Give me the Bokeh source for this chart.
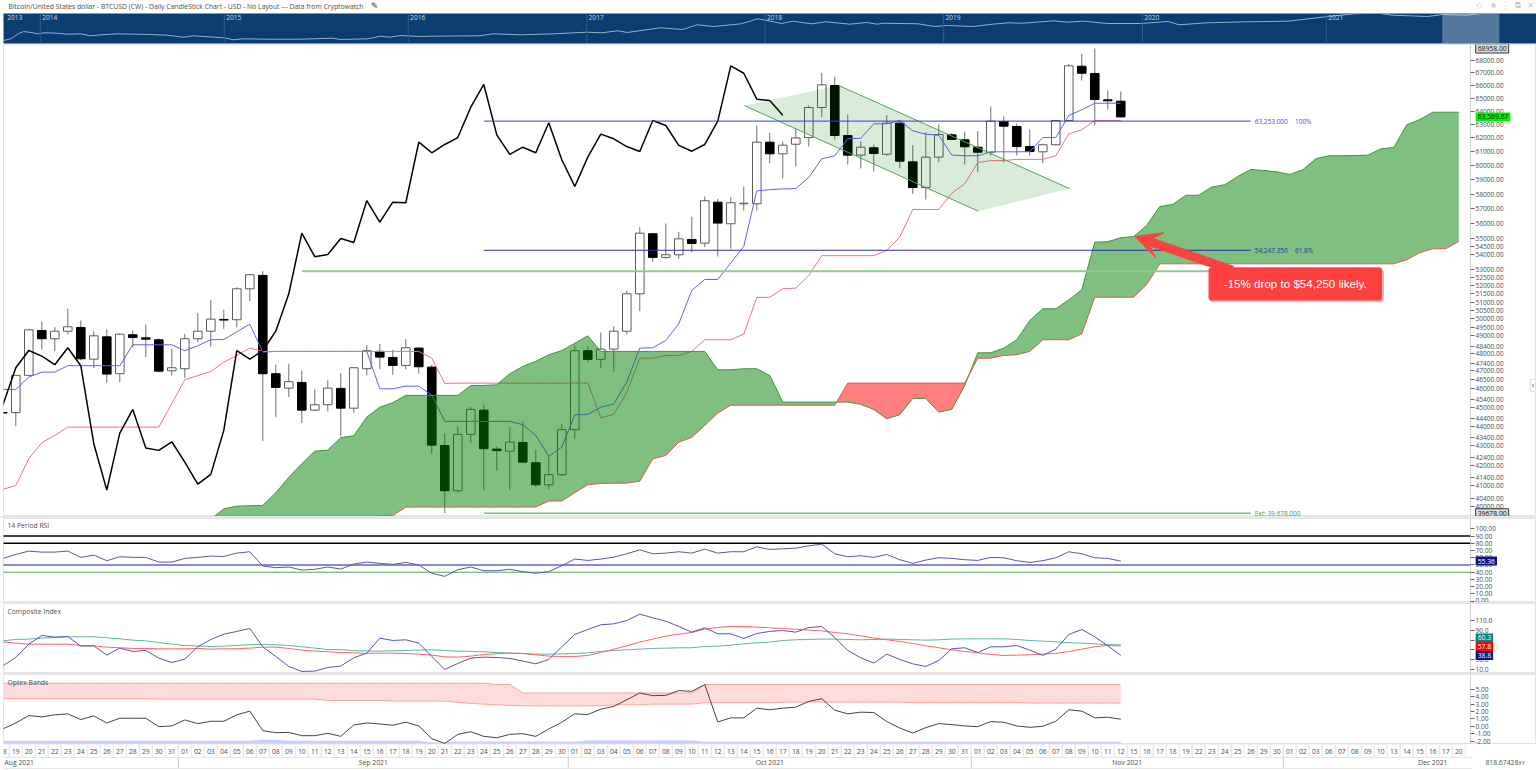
from bokeh.plotting import figure
from bokeh.layouts import column
from bokeh.embed import file_html
from bokeh.resources import INLINE
from bokeh.core.properties import value
from bokeh.models import (Range1d, FixedTicker, PrintfTickFormatter, Label, Span, Arrow, VeeHead,
                          BoxAnnotation, Spacer)

TITLE = "Bitcoin/United States dollar - BTCUSD (CW) - Daily CandleStick Chart - USD - No Layout --- Data from Cryptowatch"

open_ = [44730,44720,46750,49310,48830,49270,49490,47660,48940,46840,
 49060,48885,48770,47005,47120,48830,49270,49965,49945,51820,
 52650,46840,46045,46360,44855,45145,46030,44960,47120,48100,
 47755,47305,48290,47210,43010,40755,43580,44855,42825,42720,
 43165,42135,41045,41540,43825,48140,47645,48230,49270,51510,
 55325,53790,53960,54950,54710,57440,55985,57330,57330,61690,
 60840,61540,62030,64285,65990,62180,60745,61280,60810,63100,
 60265,58450,60600,62230,61860,61320,60955,63225,62850,61370,
 60985,61500,63300,67520,66940,64875,64770]
close = [44700,46750,49350,48830,49270,49530,47680,49000,46820,49095,
 48900,48805,46985,47175,48830,49270,49980,49925,51820,52690,
 46840,46085,46400,44855,45145,46045,44960,47175,48140,47775,
 47305,48310,47230,43025,40755,43580,44895,42845,42745,43180,
 42165,41045,41540,43825,48140,47645,48230,49270,51510,55360,
 53790,53960,54990,54690,57540,56030,57400,57370,61690,60840,
 61470,62005,64285,66045,62180,60745,61320,60865,63100,60310,
 58450,60600,62250,61885,61350,60955,63250,62875,61370,61005,
 61500,63300,67550,66960,64900,64800,63569.67]
high = [44730,46750,49410,49850,49510,50600,49900,49270,49375,49150,
 49310,49665,48845,48250,49115,50360,51140,50540,51920,52750,
 52915,47345,47400,47020,45975,46470,46875,47210,48460,48540,
 48195,48805,48345,47345,43650,43995,45015,45145,42960,43960,
 44250,42795,42470,44140,48440,48385,49195,49550,51715,55760,
 55340,56000,55455,56455,57830,57670,57780,58525,62925,62380,
 61740,62720,64440,66990,66690,63760,61760,61520,63700,63350,
 61470,62425,63000,62350,62480,62500,64360,63600,63050,62650,
 61570,63350,67710,68530,68958,65600,65520]
low = [44700,44010,46750,48210,48115,49080,47590,47150,46340,46375,
 48345,47775,46930,46745,46600,48630,48385,49410,49510,51055,
 43230,44485,45560,44170,44800,44790,43480,44720,46745,47095,
 46785,47080,46840,42590,39678,40660,43130,40770,41750,40800,
 42135,40930,40830,41470,43360,47475,47150,46930,49075,50460,
 53490,53705,53705,54130,54450,53850,54350,56880,56880,60165,
 59085,59930,61370,63550,61880,60070,59790,59575,60700,59810,
 58010,57625,60240,61885,60070,59555,60715,60215,60715,60715,
 60165,61450,63250,66385,62925,64130,63569.67]

tenkan = [45975,45975,46650,46930,46930,47290,47290,47290,47290,47290,
 48480,48480,48480,48480,48140,48425,48770,48785,49235,49685,
 48060,48100,48100,48100,48100,48100,48100,48100,48100,46010,
 46010,46155,46155,45665,44260,44260,44260,44260,44260,44260,
 44085,43530,42455,42925,44610,44630,45015,45180,46375,48290,
 48310,48730,49710,51715,52395,52395,53435,54500,58215,58300,
 58350,58375,59155,60480,60700,61935,61980,63050,63050,63300,
 62530,62280,62200,60745,60700,60700,60985,60985,60985,61000,
 62030,62030,63680,64110,64615,64615,64615]
kijun = [40820,41010,42340,43150,43530,43960,43960,43960,43960,43960,
 43960,43960,43960,45200,46510,46730,46965,47490,47870,48290,
 48100,48100,48100,48100,48100,48100,48100,48100,48100,48100,
 48100,48100,48100,47715,46300,46320,46320,46320,46320,46320,
 46320,46320,46320,46320,46320,46320,44450,44630,45825,47715,
 47715,47870,47870,48100,48770,48770,48770,49100,51285,51300,
 51820,51860,52645,53900,53900,53900,53900,53900,54240,55100,
 56945,56945,56945,58055,58710,60210,60350,60350,60440,60440,
 60440,60700,62300,62600,63300,63300,63300]
chikou = [45110,47175,48150,47830,47345,48310,47290,43100,40785,43650,
 44895,42875,42760,43200,42165,41075,41555,43790,48150,47660,
 48150,49270,51510,55360,53835,53980,55010,54755,57540,56095,
 57440,57400,61690,60915,61520,62030,64310,66070,62230,60800,
 61320,60915,63125,60410,58525,60600,62280,61935,61370,61005,
 63300,62925,61450,61030,61520,63250,67550,66960,64925,64825,
 63700]
CLOUD_START = 16
span_a = [39400,39890,40015,40035,40050,40660,41410,42085,42720,42770,
 43410,43515,44485,45015,45255,45650,45650,45650,45650,45650,
 46190,46190,46230,46840,47250,47535,47910,48150,48570,49000,
 48100,48100,48100,48100,48100,48100,48100,48100,48100,47060,
 47060,47120,47120,46745,45285,45285,45285,45285,45285,45285,
 45165,44895,44400,44610,45485,45485,44750,44895,46190,48020,
 48020,48290,48770,49905,50600,50600,51140,51760,54775,54800,
 55060,55145,55880,57150,57285,57915,57915,58480,58645,59225,
 59720,59650,59550,59365,59695,60480,60700,60700,60715,60745,
 61200,61300,62975,63370,63925,63925,63925]
span_b = [39200,39200,39200,39200,39200,39200,39200,39200,39200,39200,
 39200,39200,39400,39570,39570,39970,39970,39970,39970,39970,
 39970,39970,39970,39970,39970,39970,40260,40260,40660,41045,
 41110,41125,41125,41225,42330,42500,43180,43425,44050,44700,
 45120,45120,45120,45120,45120,45120,45120,45120,45120,46320,
 46320,46320,46320,46320,46320,46320,46320,46320,46320,47715,
 47715,47870,47910,48100,48770,48770,48770,49115,51300,51300,
 51300,51300,52085,53380,53380,53380,53380,53380,53380,53380,
 53380,53380,53380,53380,53380,53380,53380,53380,53380,53380,
 53380,53380,53640,54090,54345,54345,54820]

fib_prices = [63253.0, 54247.35, 39678.0]
fib_text = ["63,253.000", "54,247.350", "Ext: 39,678.000"]
fib_pct = ["100%", "61.8%", ""]
fib_colors = ["#3838ee", "#2a2fa8", "#7cc07c"]
fib_from, fib_to = 37, 96
level_50 = 52910
channel_x = [57.05, 64.3, 82.05, 75.05]
channel_y = [64430, 65990, 58380, 56820]

price_ticks = [68000,67000,66000,65000,64000,63000,62000,61000,60000,59000,58000,57000,56000,55000,
 54500,54000,53000,52500,52000,51500,51000,50500,50000,49500,49000,48400,48000,47400,47000,46500,
 46000,45400,45000,44400,44000,43400,43000,42400,42000,41400,41000,40400,40000]

rsi = [59.1,64.6,69.2,67.8,67.8,69.2,60.5,63.7,55.9,61.4,60.5,60.5,54,54,59.1,60.5,62.3,61.8,66.4,68.3,
 48.6,46.3,47.2,43,44,47.2,44.4,51.3,54,52.2,50.8,53.6,49.9,38.5,34.3,43.5,47.2,42.1,42.1,44,
 40.8,38.5,40.8,49,58.2,56.3,58.2,60.9,65.5,71,65.5,66.4,68.3,66.4,71.9,66.4,68.3,68.3,75.1,71.5,
 72.4,73.3,76.5,78.8,65.5,61.4,62.8,60.5,64.6,57.3,52.2,56.8,60,59.1,57.3,56.3,60.5,60,55.9,53.6,
 55.9,60,68.3,65.5,60,59.1,55.36]
rsi_ticks = [0,10,20,30,40,50,60,70,80,90,100]
rsi_levels = [90, 80, 50, 40]
rsi_level_colors = ["#444444", "black", "#8a8ad0", "#4fa54f"]
rsi_level_widths = [2, 1.5, 2, 1]

comp_blue = [17.5,34.5,61.7,79.4,76,77.4,57.7,58.3,39.3,53.6,46.8,48.8,33.2,24.3,31.1,56.3,71.3,82.1,87.6,93.7,
 56.3,36.6,16.2,6,6.7,14.1,16.9,33.9,43.4,74,69.2,70.6,63.8,36.6,10.1,22.3,33.2,35.2,34.5,32.5,
 27.1,21.6,30.5,56.3,81.5,91.7,101.2,103.2,110,122.9,115.5,108.7,97.8,86.2,95.1,82.8,82.8,73.3,83.5,87.6,
 89.6,86.2,95.7,97.8,75.3,48.8,33.9,23,41.3,30.5,21.6,16.2,28.4,52.2,54.3,44.7,56.3,56.3,59,49.5,
 38.6,51.5,81.5,91.7,76.7,58.3,38.8]
comp_teal = [68.5,71.3,72,74,75.3,76.7,76.7,76.7,74.7,72.6,69.9,68.5,65.1,61.7,59,57.7,57,57.7,59,61,
 61,60.4,59,56.3,53.6,50.9,50.2,48.8,47.5,47.5,48.2,48.8,49.5,50.2,48.8,47.5,46.8,46.1,44.7,43.4,
 42.7,41.3,41.3,42,42.7,44.1,46.8,48.8,50.2,51.5,52.9,53.6,54.3,54.3,57,57.7,59.7,62.4,64.5,65.8,
 69.2,70.6,71.3,72,72,71.3,70.6,71.3,72,71.3,70.6,69.9,70.6,72,72.6,72.6,72.6,72.6,71.3,69.2,
 67.9,66.5,64.5,63.8,62.4,60.4,60.3]
comp_red = [66.5,63.8,61.7,61.7,61.7,61.7,59,58.3,55.6,54.3,52.9,52.9,52.2,52.2,52.2,52.9,51.5,52.2,52.2,53.6,
 55.6,55.6,52.9,49.5,47.5,46.1,44.7,44.1,42.7,43.4,43.4,42.7,41.3,39.3,35.9,35.2,37.3,40.7,42,43.4,
 42.7,40,37.3,36.6,36.6,38.6,44.7,51.5,58.3,65.8,72,78.1,82.1,85.5,92.3,95.7,97.8,97.8,96.4,95.1,
 93.7,92.3,90.3,88.9,85.5,82.8,78.7,74,70.6,67.2,63.1,58.3,54.3,50.2,46.8,44.1,40.7,38.6,39.3,40,
 41.3,42.7,46.8,51.5,56.3,59,57.8]
comp_ticks = [10,30,50,70,90,110]

optex = [-.36,.45,1.45,1.27,1.55,1.68,.91,1.41,.45,1.09,1.09,1.09,-.05,.05,.86,.36,.68,.68,1.55,2.05,
 -.59,-.86,-.82,-1.27,-1.27,-.95,-1.36,.18,.45,.32,.14,.55,.05,-1.68,-2.32,-1.09,-.73,-1.36,-1.55,-1.09,
 -1,-1.36,-.36,.55,1.68,1.59,2.32,2.68,3.59,4.5,4.14,4.18,4.82,4.73,5.64,.59,1.14,1.14,2.45,2.23,
 2.45,2.59,3.36,3.73,2.18,1.68,1.91,1.86,.64,-.23,-.91,-.18,.36,.23,.05,-.05,.64,.55,.05,-.14,
 0,.68,2.23,2.05,1.14,1.23,.95]
optex_up = [5.82]*38 + [5.64,5.64] + [4.5]*14 + [5.64]*33
optex_low = [3.73]*12 + [3.68]*13 + [3.5]*5 + [3.41]*5 + [3.23,3.1,3.0,2.91,2.82] + [2.77]*7 + [2.91]*3 + [3.0]*4 + \
            [3.18]*6 + [3.27]*10 + [3.23]*9 + [3.14]*8 + [3.09,3.05,3.05,3.05,3.05]
lilac_up = [-1.95]*20 + [-1.77,-1.86] + [-1.95]*11 + [-2.18,-2.18] + [-2.05]*10 + [-1.91]*9 + [-2.09]*33
lilac_low = [-2.32]*87
optex_ticks = [-2,-1,0,1,2,3,4,5]

days = ["18","19","20","21","22","23","24","25","26","27","28","29","30","31",
 "01","02","03","04","05","06","07","08","09","10","11","12","13","14","15","16","17","18","19","20","21","22","23","24","25","26","27","28","29","30",
 "01","02","03","04","05","06","07","08","09","10","11","12","13","14","15","16","17","18","19","20","21","22","23","24","25","26","27","28","29","30","31",
 "01","02","03","04","05","06","07","08","09","10","11","12",
 "15","16","17","18","19","22","23","24","25","26","29","30",
 "01","02","03","06","07","08","09","10","13","14","15","16","17","20"]
months = ["Sep 2021", "Oct 2021", "Nov 2021", "Dec 2021"]
month_x = [28.5, 59, 86.5, 110]
month_breaks = [13.5, 43.5, 74.5, 98.5]

nav_year = [2013.80,2013.84,2013.88,2013.91,2013.95,2013.99,2014.02,2014.09,2014.15,2014.22,2014.27,2014.33,2014.42,2014.60,
 2014.69,2014.78,2014.83,2015.0,2015.05,2015.10,2015.24,2015.41,2015.59,2015.63,2015.78,2015.85,2015.90,2015.96,2016.07,2016.12,
 2016.39,2016.46,2016.61,2016.79,2016.97,2017.05,2017.14,2017.19,2017.37,2017.49,2017.57,2017.66,2017.81,2017.90,2017.95,2018.03,
 2018.09,2018.19,2018.27,2018.40,2018.49,2018.55,2018.58,2018.77,2018.86,2018.93,2019.07,2019.16,2019.26,2019.34,2019.51,2019.58,
 2019.67,2019.80,2019.98,2020.13,2020.19,2020.34,2020.56,2020.78,2021.0,2021.14,2021.27,2021.35,2021.54,2021.62,2021.75,2021.84]
nav_price = [153,223,669,1112,892,669,836,766,612,669,433,537,669,574,
 491,316,433,277,179,223,203,203,253,192,223,393,316,459,369,393,
 433,669,537,669,953,836,1298,892,2512,1726,4864,3345,6062,18230,12540,6475,
 10750,6062,9420,5552,8070,5552,6915,6062,3345,4166,3345,5200,7553,6915,11740,8617,
 10750,6475,6475,10060,4864,7553,9420,10750,30280,54860,62600,40300,30280,47000,40300,62600]
year_names = ["2013","2014","2015","2016","2017","2018","2019","2020","2021"]
year_pos = [2013.81,2014.0,2015.0,2016.0,2016.97,2017.94,2018.91,2019.99,2020.99]
nav_window = (2021.62, 2021.93)

W = 1536
F = "Open Sans"
GREY = "#4d4d4d"
AXIS_AT = 112.9
x_range = Range1d(0.054, 117.98)

def idx(n):
    return list(range(n))

def panel(h, y_range, ticks, fmt, **kw):
    p = figure(width=W, height=h, x_range=x_range, y_range=y_range, output_backend="svg",
               toolbar_location=None, x_axis_location=None, y_axis_location="right",
               min_border_left=3, min_border_right=0, min_border_top=0, min_border_bottom=0,
               outline_line_color="#e3e3e3", **kw)
    p.grid.visible = False
    ax = p.yaxis[0]
    ax.fixed_location = AXIS_AT
    ax.ticker = FixedTicker(ticks=ticks)
    ax.formatter = PrintfTickFormatter(format=fmt)
    ax.major_label_text_font = F
    ax.major_label_text_font_size = "6.6px"
    ax.major_label_text_color = GREY
    ax.major_tick_line_color = "#666666"
    ax.major_tick_in = 0
    ax.major_tick_out = 4
    ax.minor_tick_line_color = None
    ax.axis_line_color = "#d0d0d0"
    ax.major_label_standoff = 1
    return p

def tag(p, x, y, text, bg, color="white", border=None):
    p.add_layout(Label(x=x, y=y, text=text, text_font=F, text_font_size="6.8px", text_color=color,
                       text_align="left", text_baseline="middle", background_fill_color=bg,
                       border_line_color=border, padding=2))

def pane_title(p, y, text):
    p.text(x=[0.36], y=[y], text=[text], text_font=value(F), text_font_size="6.8px",
           text_color=GREY, text_baseline="middle")

# ---------- title strip ----------
head = figure(width=W, height=13, x_range=Range1d(3, W), y_range=Range1d(0, 13), output_backend="svg",
              toolbar_location=None, x_axis_location=None, y_axis_location=None,
              min_border_left=3, min_border_right=0, min_border_top=0, min_border_bottom=0, outline_line_color=None)
head.grid.visible = False
head.text(x=[8], y=[7], text=[TITLE], text_font=value(F), text_font_size="6.8px",
          text_color=GREY, text_baseline="middle")
head.text(x=[374], y=[7.5], text=["\u270e"], text_font=value("DejaVu Sans"), text_font_size="9px",
          text_color="#333333", text_align="center", text_baseline="middle")
head.text(x=[1479, 1493, 1505, 1517, 1530], y=[8]*5, text=["\u25c7", "\u2605", "\u22ee", "\u29c9", "\u2715"],
          text_font=value("DejaVu Sans"), text_font_size="8px", text_color="#c4c4c4",
          text_align="center", text_baseline="middle")

# ---------- navigator ----------
nav = figure(width=W, height=31, x_range=Range1d(2013.80, 2022.132), y_range=Range1d(79, 58600),
             y_axis_type="log", output_backend="svg", toolbar_location=None,
             x_axis_location=None, y_axis_location=None, min_border_left=3, min_border_right=0,
             min_border_top=0, min_border_bottom=1, outline_line_color=None,
             background_fill_color="#0b3d73")
nav.grid.visible = False
for yp in year_pos[1:]:
    nav.add_layout(Span(location=yp, dimension="height", line_color="#2e5c8e", line_width=1))
nav.line(nav_year, nav_price, line_color="#8fb0cd", line_width=1)
nav.add_layout(BoxAnnotation(left=nav_window[0], right=nav_window[1], fill_color="white", fill_alpha=0.3, line_color=None))
nav.text(x=[y + 0.01 for y in year_pos], y=[21750]*len(year_pos), text=year_names, text_font=value(F),
         text_font_size="6.6px", text_color="#cdd8e4", text_baseline="middle")

# ---------- main chart ----------
main = panel(472, Range1d(39526, 69287), price_ticks, "%.2f", y_axis_type="log")
xs = idx(len(open_))
main.segment(xs, low, xs, high, line_color="#6e6e6e", line_width=1)
up_x = [i for i in xs if close[i] >= open_[i]]
dn_x = [i for i in xs if close[i] < open_[i]]
main.vbar(up_x, 0.66, [open_[i] for i in up_x], [close[i] for i in up_x], fill_color="white",
          line_color="#5a5a5a", line_width=1)
main.vbar(dn_x, 0.66, [open_[i] for i in dn_x], [close[i] for i in dn_x], fill_color="black",
          line_color="black", line_width=1)
main.line(idx(len(tenkan)), tenkan, line_color="#5f5fff", line_width=1)
main.line(idx(len(kijun)), kijun, line_color="#f0708a", line_width=1)
main.line(idx(len(chikou)), chikou, line_color="black", line_width=1.5)

# cloud: runs split where the two spans cross
cx = [CLOUD_START + i for i in range(len(span_a))]
runs = []
run = [(cx[0], span_a[0], span_b[0])]
for i in range(1, len(cx)):
    d0, d1 = span_a[i-1] - span_b[i-1], span_a[i] - span_b[i]
    if d0 * d1 < 0:
        t = d0 / (d0 - d1)
        xc = cx[i-1] + t
        yc = span_a[i-1] + t * (span_a[i] - span_a[i-1])
        run.append((xc, yc, yc))
        runs.append((d0 > 0, run))
        run = [(xc, yc, yc)]
    run.append((cx[i], span_a[i], span_b[i]))
runs.append((span_a[-1] > span_b[-1], run))
for is_up, r in runs:
    main.varea([q[0] for q in r], [q[1] for q in r], [q[2] for q in r],
               fill_color="#008000" if is_up else "#ff0000", fill_alpha=0.5)
main.line(cx, span_a, line_color="#3a9a3a", line_width=1)
main.line(cx, span_b, line_color="#ee5050", line_width=1)

# channel
main.patch(channel_x, channel_y, fill_color="#008000", fill_alpha=0.15, line_color=None)
main.line(channel_x[0:1] + channel_x[3:], channel_y[0:1] + channel_y[3:], line_color="#4fa54f", line_width=1)
main.line(channel_x[1:3], channel_y[1:3], line_color="#4fa54f", line_width=1)

# fibonacci levels
main.segment([fib_from]*3, fib_prices, [fib_to]*3, fib_prices, line_color=fib_colors, line_width=[1, 1, 1.5])
main.segment([23], [level_50], [fib_to], [level_50], line_color="#8fcb8f", line_width=2)
main.text(x=[96.3]*3, y=fib_prices, text=fib_text, text_color=["#4a4ae8", "#2a2fa8", "#3fa03f"],
          text_font=value(F), text_font_size="6.5px", text_baseline="middle")
main.text(x=[99.4]*3, y=fib_prices, text=fib_pct, text_color=["#4a4ae8", "#2a2fa8", "#3fa03f"],
          text_font=value(F), text_font_size="6.5px", text_baseline="middle")

# annotation arrow and callout
main.add_layout(Arrow(end=VeeHead(size=26, fill_color="#f94343", line_color="#f94343", line_width=1),
                      x_start=94.6, y_start=52970, x_end=87.1, y_end=55145,
                      line_color="#f94343", line_width=9))
main.add_layout(BoxAnnotation(left=92.85, right=106.25, top=53000, bottom=51000, fill_color="#555555",
                              fill_alpha=0.35, line_color=None, border_radius=3))
main.add_layout(BoxAnnotation(left=92.75, right=106.1, top=53170, bottom=51100, fill_color="#ff4040",
                              fill_alpha=1, line_color=None, border_radius=3))
main.add_layout(Label(x=99.42, y=52120, text="-15% drop to $54,250 likely.", text_font="Liberation Sans",
                      text_font_size="11.6px", text_color="white", text_align="center", text_baseline="middle"))
tag(main, 113.3, 68958, "68958.00", "#dddddd", "#111111", "#333333")
tag(main, 113.3, 63569.67, "63,569.67", "#00f000", "#111111")
tag(main, 113.3, 39678, "39678.00", "#dddddd", "#111111", "#333333")
main.add_layout(Label(x=117.5, y=46200, text="\u2039", text_font="DejaVu Sans", text_font_size="9px",
                      text_color="#555555", text_baseline="middle", border_line_color="#dddddd", padding=1))

# ---------- RSI ----------
rsi_p = panel(84, Range1d(-1.9, 114.3), rsi_ticks, "%.2f")
rsi_p.segment([-1]*4, rsi_levels, [AXIS_AT]*4, rsi_levels, line_color=rsi_level_colors, line_width=rsi_level_widths)
rsi_p.line(idx(len(rsi)), rsi, line_color="#5555bb", line_width=1)
pane_title(rsi_p, 104.7, "14 Period RSI")
tag(rsi_p, 113.3, 55.36, "55.36", "#10107f")

# ---------- Composite Index ----------
comp = panel(70, Range1d(1.8, 144.7), comp_ticks, "%.1f")
comp.line(idx(len(comp_teal)), comp_teal, line_color="#5ab5a8", line_width=1)
comp.line(idx(len(comp_red)), comp_red, line_color="#ff6464", line_width=1)
comp.line(idx(len(comp_blue)), comp_blue, line_color="#5555bb", line_width=1)
pane_title(comp, 129, "Composite Index")
tag(comp, 113.3, 60.3 + 14, "60.3", "#008080")
tag(comp, 113.3, 57.8 - 1, "57.8", "#ff0000")
tag(comp, 113.3, 38.8, "38.8", "#10107f")

# ---------- Optex Bands ----------
opt = panel(70, Range1d(-2.46, 7.0), optex_ticks, "%.2f")
ox = idx(87)
opt.varea(ox, optex_low, optex_up, fill_color="#ffdcdc")
opt.line(ox, optex_up, line_color="#ff9f9f", line_width=1)
opt.line(ox, optex_low, line_color="#ff9f9f", line_width=1)
opt.varea(ox, lilac_low, lilac_up, fill_color="#ccccff")
opt.line(ox, optex, line_color="#444444", line_width=1)
pane_title(opt, 5.97, "Optex Bands")

# ---------- date strip ----------
dates = figure(width=W, height=26, x_range=x_range, y_range=Range1d(0, 26), output_backend="svg",
               toolbar_location=None, x_axis_location=None, y_axis_location=None,
               min_border_left=3, min_border_right=0, min_border_top=0, min_border_bottom=0,
               outline_line_color=None)
dates.grid.visible = False
dx = idx(len(days))
dates.quad(left=[i - 0.5 for i in dx], right=[i + 0.5 for i in dx], top=[26]*len(dx), bottom=[13]*len(dx),
           fill_color="white", line_color="#e6e6e6", line_width=1)
dates.segment(x0=[0]*1, y0=[13], x1=[113], y1=[13], line_color="#e6e6e6", line_width=1)
dates.segment(x0=[0]*1, y0=[2], x1=[113], y1=[2], line_color="#e6e6e6", line_width=1)
dates.segment(month_breaks, [2]*4, month_breaks, [13]*4, line_color="#cccccc", line_width=1)
dates.text(x=dx, y=[19.5]*len(dx), text=days, text_font=value(F), text_font_size="6.8px", text_color=GREY,
           text_align="center", text_baseline="middle")
dates.text(x=[0.13], y=[8], text=["Aug 2021"], text_font=value(F), text_font_size="6.8px", text_color=GREY,
           text_baseline="middle")
dates.text(x=month_x, y=[8]*4, text=months, text_font=value(F), text_font_size="6.8px", text_color=GREY,
           text_align="center", text_baseline="middle")
dates.add_layout(Label(x=114.05, y=8, text="818.67428", text_font=F, text_font_size="6.8px", text_color=GREY,
                       text_baseline="middle"))
dates.add_layout(Label(x=116.6, y=8, text="XY", text_font=F, text_font_size="5.5px", text_color=GREY,
                       text_baseline="middle"))

def rule(h):
    return Spacer(width=W, height=h, styles={"background-color": "#e8e8e8"})

page = column(head, nav, main, rule(2), rsi_p, rule(1), comp, rule(1), opt, dates, spacing=0)
open("out.html", "w").write(file_html(page, INLINE))
